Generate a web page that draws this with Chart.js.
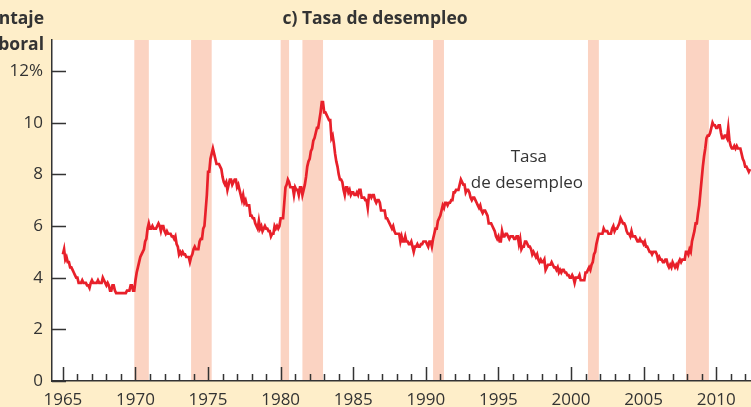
<!DOCTYPE html>
<html>
<head>
<meta charset="utf-8">
<script src="https://cdn.jsdelivr.net/npm/chart.js@4"></script>
<style>
  html, body { margin: 0; padding: 0; background: #feeec9; }
  canvas { display: block; }
</style>
</head>
<body>
<canvas id="chart" width="751" height="407"></canvas>
<script>
// US civilian unemployment rate, monthly, seasonally adjusted (percent)
const startYear = 1965;
const monthlyRate = [
  4.9, 5.1, 4.7, 4.8, 4.6, 4.6, 4.4, 4.4, 4.3, 4.2, 4.1, 4.0,   // 1965
  4.0, 3.8, 3.8, 3.8, 3.9, 3.8, 3.8, 3.8, 3.7, 3.7, 3.6, 3.8,   // 1966
  3.9, 3.8, 3.8, 3.8, 3.8, 3.9, 3.8, 3.8, 3.8, 4.0, 3.9, 3.8,   // 1967
  3.7, 3.8, 3.7, 3.5, 3.5, 3.7, 3.7, 3.5, 3.4, 3.4, 3.4, 3.4,   // 1968
  3.4, 3.4, 3.4, 3.4, 3.4, 3.5, 3.5, 3.5, 3.7, 3.7, 3.5, 3.5,   // 1969
  3.9, 4.2, 4.4, 4.6, 4.8, 4.9, 5.0, 5.1, 5.4, 5.5, 5.9, 6.1,   // 1970
  5.9, 5.9, 6.0, 5.9, 5.9, 5.9, 6.0, 6.1, 6.0, 5.8, 6.0, 6.0,   // 1971
  5.8, 5.7, 5.8, 5.7, 5.7, 5.7, 5.6, 5.6, 5.5, 5.6, 5.3, 5.2,   // 1972
  4.9, 5.0, 4.9, 5.0, 4.9, 4.9, 4.8, 4.8, 4.8, 4.6, 4.8, 4.9,   // 1973
  5.1, 5.2, 5.1, 5.1, 5.1, 5.4, 5.5, 5.5, 5.9, 6.0, 6.6, 7.2,   // 1974
  8.1, 8.1, 8.6, 8.8, 9.0, 8.8, 8.6, 8.4, 8.4, 8.4, 8.3, 8.2,   // 1975
  7.9, 7.7, 7.6, 7.7, 7.4, 7.6, 7.8, 7.8, 7.6, 7.7, 7.8, 7.8,   // 1976
  7.5, 7.6, 7.4, 7.2, 7.0, 7.2, 6.9, 7.0, 6.8, 6.8, 6.8, 6.4,   // 1977
  6.4, 6.3, 6.3, 6.1, 6.0, 5.9, 6.2, 5.9, 6.0, 5.8, 5.9, 6.0,   // 1978
  5.9, 5.9, 5.8, 5.8, 5.6, 5.7, 5.7, 6.0, 5.9, 6.0, 5.9, 6.0,   // 1979
  6.3, 6.3, 6.3, 6.9, 7.5, 7.6, 7.8, 7.7, 7.5, 7.5, 7.5, 7.2,   // 1980
  7.5, 7.4, 7.4, 7.2, 7.5, 7.5, 7.2, 7.4, 7.6, 7.9, 8.3, 8.5,   // 1981
  8.6, 8.9, 9.0, 9.3, 9.4, 9.6, 9.8, 9.8, 10.1, 10.4, 10.8, 10.8, // 1982
  10.4, 10.4, 10.3, 10.2, 10.1, 10.1, 9.4, 9.5, 9.2, 8.8, 8.5, 8.3, // 1983
  8.0, 7.8, 7.8, 7.7, 7.4, 7.2, 7.5, 7.5, 7.3, 7.4, 7.2, 7.3,   // 1984
  7.3, 7.2, 7.2, 7.3, 7.2, 7.4, 7.4, 7.1, 7.1, 7.1, 7.0, 7.0,   // 1985
  6.7, 7.2, 7.2, 7.1, 7.2, 7.2, 7.0, 6.9, 7.0, 7.0, 6.9, 6.6,   // 1986
  6.6, 6.6, 6.6, 6.3, 6.3, 6.2, 6.1, 6.0, 5.9, 6.0, 5.8, 5.7,   // 1987
  5.7, 5.7, 5.7, 5.4, 5.6, 5.4, 5.4, 5.6, 5.4, 5.4, 5.3, 5.3,   // 1988
  5.4, 5.2, 5.0, 5.2, 5.2, 5.3, 5.2, 5.2, 5.3, 5.3, 5.4, 5.4,   // 1989
  5.4, 5.3, 5.2, 5.4, 5.4, 5.2, 5.5, 5.7, 5.9, 5.9, 6.2, 6.3,   // 1990
  6.4, 6.6, 6.8, 6.7, 6.9, 6.9, 6.8, 6.9, 6.9, 7.0, 7.0, 7.3,   // 1991
  7.3, 7.4, 7.4, 7.4, 7.6, 7.8, 7.7, 7.6, 7.6, 7.3, 7.4, 7.4,   // 1992
  7.3, 7.1, 7.0, 7.1, 7.1, 7.0, 6.9, 6.8, 6.7, 6.8, 6.6, 6.5,   // 1993
  6.6, 6.6, 6.5, 6.4, 6.1, 6.1, 6.1, 6.0, 5.9, 5.8, 5.6, 5.5,   // 1994
  5.6, 5.4, 5.4, 5.8, 5.6, 5.6, 5.7, 5.7, 5.6, 5.5, 5.6, 5.6,   // 1995
  5.6, 5.5, 5.5, 5.6, 5.6, 5.3, 5.5, 5.1, 5.2, 5.2, 5.4, 5.4,   // 1996
  5.3, 5.2, 5.2, 5.1, 4.9, 5.0, 4.9, 4.8, 4.9, 4.7, 4.6, 4.7,   // 1997
  4.6, 4.6, 4.7, 4.3, 4.4, 4.5, 4.5, 4.5, 4.6, 4.5, 4.4, 4.4,   // 1998
  4.3, 4.4, 4.2, 4.3, 4.2, 4.3, 4.3, 4.2, 4.2, 4.1, 4.1, 4.0,   // 1999
  4.0, 4.1, 4.0, 3.8, 4.0, 4.0, 4.0, 4.1, 3.9, 3.9, 3.9, 3.9,   // 2000
  4.2, 4.2, 4.3, 4.4, 4.3, 4.5, 4.6, 4.9, 5.0, 5.3, 5.5, 5.7,   // 2001
  5.7, 5.7, 5.7, 5.9, 5.8, 5.8, 5.8, 5.7, 5.7, 5.7, 5.9, 6.0,   // 2002
  5.8, 5.9, 5.9, 6.0, 6.1, 6.3, 6.2, 6.1, 6.1, 6.0, 5.8, 5.7,   // 2003
  5.7, 5.6, 5.8, 5.6, 5.6, 5.6, 5.5, 5.4, 5.4, 5.5, 5.4, 5.4,   // 2004
  5.3, 5.4, 5.2, 5.2, 5.1, 5.0, 5.0, 4.9, 5.0, 5.0, 5.0, 4.9,   // 2005
  4.7, 4.8, 4.7, 4.7, 4.6, 4.6, 4.7, 4.7, 4.5, 4.4, 4.5, 4.4,   // 2006
  4.6, 4.5, 4.4, 4.5, 4.4, 4.6, 4.7, 4.6, 4.7, 4.7, 4.7, 5.0,   // 2007
  5.0, 4.9, 5.1, 5.0, 5.4, 5.6, 5.8, 6.1, 6.1, 6.5, 6.8, 7.3,   // 2008
  7.8, 8.3, 8.7, 9.0, 9.4, 9.5, 9.5, 9.6, 9.8, 10.0, 9.9, 9.9,  // 2009
  9.8, 9.8, 9.9, 9.9, 9.6, 9.4, 9.4, 9.5, 9.5, 9.4, 9.8, 9.3,   // 2010
  9.1, 9.0, 9.0, 9.1, 9.0, 9.1, 9.0, 9.0, 9.0, 8.8, 8.6, 8.5,   // 2011
  8.3, 8.3, 8.2, 8.1, 8.2                                       // 2012
];

// NBER recessions as [start, end] in decimal years
const recessions = [
  [1969.92, 1970.92],
  [1973.83, 1975.25],
  [1980.00, 1980.58],
  [1981.50, 1982.92],
  [1990.50, 1991.25],
  [2001.17, 2001.92],
  [2007.92, 2009.50]
];

const yearLabels = [1965, 1970, 1975, 1980, 1985, 1990, 1995, 2000, 2005, 2010];
const rateTicks = [0, 2, 4, 6, 8, 10, 12];

const CREAM = '#feeec9';
const BAND = '#fbd3c2';
const INK = '#333333';
const FONT = '"Open Sans", "DejaVu Sans", sans-serif';

const points = monthlyRate.map((v, i) => ({ x: startYear + i / 12, y: v }));

const backdrop = {
  id: 'backdrop',
  beforeDraw(chart) {
    const { ctx, chartArea: a, scales: { x } } = chart;
    ctx.save();
    ctx.fillStyle = CREAM;
    ctx.fillRect(0, 0, chart.width, chart.height);
    ctx.fillStyle = '#ffffff';
    ctx.fillRect(a.left, a.top, a.right - a.left, a.bottom - a.top);
    ctx.fillStyle = BAND;
    recessions.forEach(([s, e]) => {
      const x0 = x.getPixelForValue(s);
      const x1 = x.getPixelForValue(e);
      ctx.fillRect(x0, a.top, x1 - x0, a.bottom - a.top);
    });
    ctx.restore();
  },
  afterDraw(chart) {
    const { ctx, chartArea: a, scales: { x, y } } = chart;
    ctx.save();
    ctx.strokeStyle = INK;
    ctx.lineWidth = 1.5;
    ctx.beginPath();
    // inward ticks on the y axis
    rateTicks.forEach(v => {
      const py = Math.round(y.getPixelForValue(v)) + 0.5;
      ctx.moveTo(a.left, py);
      ctx.lineTo(a.left + 14, py);
    });
    // yearly ticks on the x axis, longer every five years
    for (let yr = 1965; yr <= 2012; yr++) {
      const px = Math.round(x.getPixelForValue(yr)) + 0.5;
      const len = yr % 5 === 0 ? 14 : 7;
      ctx.moveTo(px, a.bottom);
      ctx.lineTo(px, a.bottom - len);
    }
    ctx.stroke();

    ctx.fillStyle = INK;
    ctx.textBaseline = 'middle';
    ctx.font = 'bold 17.5px ' + FONT;
    ctx.textAlign = 'center';
    ctx.fillText('c) Tasa de desempleo', 375, 19);
    ctx.textAlign = 'right';
    ctx.fillText('Porcentaje', 44, 19);
    ctx.fillText('de la fuerza laboral', 44, 45);

    ctx.font = '17px ' + FONT;
    ctx.textAlign = 'center';
    const lx = x.getPixelForValue(1997.1);
    ctx.fillText('Tasa', lx, y.getPixelForValue(8.65));
    ctx.fillText('de desempleo', lx - 2, y.getPixelForValue(7.65));
    ctx.restore();
  }
};

new Chart(document.getElementById('chart'), {
  type: 'line',
  data: {
    datasets: [{
      data: points,
      borderColor: '#e8202a',
      borderWidth: 2.7,
      pointRadius: 0,
      tension: 0,
      fill: false
    }]
  },
  options: {
    responsive: false,
    animation: false,
    layout: { padding: { top: 40, left: 0, right: 0, bottom: 0 } },
    plugins: {
      legend: { display: false },
      tooltip: { enabled: false },
      title: { display: false }
    },
    scales: {
      x: {
        type: 'linear',
        min: 1964.25,
        max: 2012.4,
        grid: { display: false, drawTicks: false },
        border: { display: true, color: INK, width: 1.5 },
        afterFit(scale) { scale.height = 26; },
        afterBuildTicks(scale) { scale.ticks = yearLabels.map(v => ({ value: v })); },
        ticks: {
          autoSkip: false,
          maxRotation: 0,
          padding: 9,
          color: INK,
          font: { family: FONT, size: 17 },
          callback: v => String(v)
        }
      },
      y: {
        min: 0,
        max: 13.2,
        grid: { display: false, drawTicks: false },
        border: { display: true, color: INK, width: 1.5 },
        afterFit(scale) { scale.width = 52; },
        afterBuildTicks(scale) { scale.ticks = rateTicks.map(v => ({ value: v })); },
        ticks: {
          padding: 9,
          color: INK,
          font: { family: FONT, size: 17 },
          callback: v => (v === 12 ? '12%' : String(v))
        }
      }
    }
  },
  plugins: [backdrop]
});
</script>
</body>
</html>
